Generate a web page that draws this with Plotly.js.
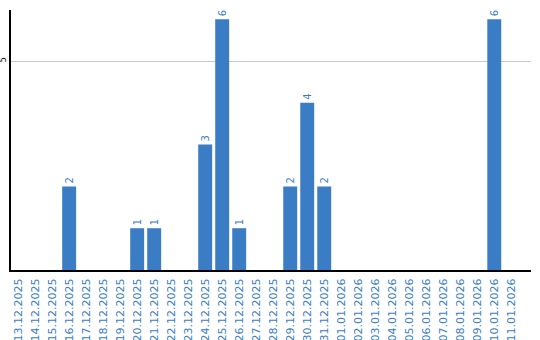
<!DOCTYPE html>
<html>
<head>
<meta charset="utf-8">
<script src="https://cdn.plot.ly/plotly-3.0.1.min.js"></script>
<style>html,body{margin:0;padding:0;background:#fff;}#chart{width:540px;height:340px;}</style>
</head>
<body>
<div id="chart"></div>
<script>
const dates = ["13.12.2025","14.12.2025","15.12.2025","16.12.2025","17.12.2025","18.12.2025","19.12.2025","20.12.2025","21.12.2025","22.12.2025","23.12.2025","24.12.2025","25.12.2025","26.12.2025","27.12.2025","28.12.2025","29.12.2025","30.12.2025","31.12.2025","01.01.2026","02.01.2026","03.01.2026","04.01.2026","05.01.2026","06.01.2026","07.01.2026","08.01.2026","09.01.2026","10.01.2026","11.01.2026"];
const counts = [0,0,0,2,0,0,0,1,1,0,0,3,6,1,0,0,2,4,2,0,0,0,0,0,0,0,0,0,6,0];
const labels = counts.map(v => v > 0 ? String(v) : "");
const blue = "#3b7dc4";

const trace = {
  type: "bar",
  x: dates,
  y: counts,
  text: labels,
  textposition: "outside",
  textangle: -90,
  cliponaxis: false,
  textfont: {family: "DejaVu Sans", size: 10, color: blue},
  marker: {color: blue},
  hoverinfo: "none"
};

const layout = {
  width: 540, height: 340,
  margin: {l: 11, r: 9, t: 10, b: 70, pad: 0},
  paper_bgcolor: "#fff", plot_bgcolor: "#fff",
  showlegend: false,
  bargap: 0.18,
  xaxis: {
    type: "category",
    range: [-0.42, 30.16],
    tickangle: -90,
    tickfont: {family: "DejaVu Sans", size: 11, color: blue},
    showline: true, linecolor: "#000", linewidth: 2,
    showgrid: false, zeroline: false, ticks: "", ticklabelstandoff: 2
  },
  yaxis: {
    range: [0, 6.22],
    tickvals: [5], ticktext: ["5"],
    tickangle: -90,
    tickfont: {family: "DejaVu Sans", size: 8, color: "#000"},
    showline: true, linecolor: "#000", linewidth: 2,
    showgrid: true, gridcolor: "#c8c8c8", gridwidth: 1,
    zeroline: false, ticks: "", ticklabelstandoff: 0
  }
};

Plotly.newPlot("chart", [trace], layout, {displayModeBar: false, staticPlot: true});
</script>
</body>
</html>
